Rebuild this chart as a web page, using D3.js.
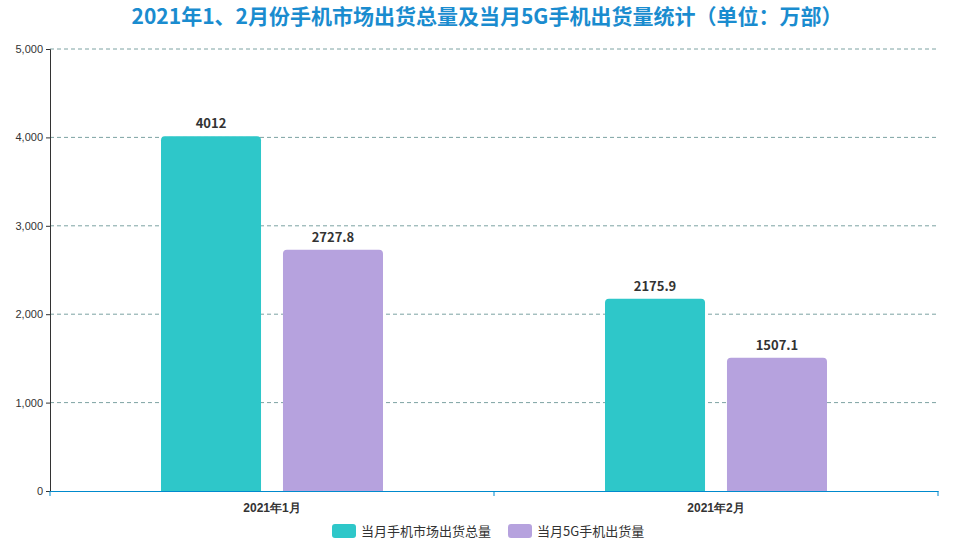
<!DOCTYPE html>
<html><head><meta charset="utf-8">
<script src="https://cdn.jsdelivr.net/npm/d3@7"></script>
<style>body{margin:0;background:#fff;font-family:"Noto Sans CJK SC","Noto Sans",sans-serif;}</style>
</head><body><div id="chart"></div>
<script>
// Data
const categories = ["2021年1月", "2021年2月"];
const seriesNames = ["当月手机市场出货总量", "当月5G手机出货量"];
const totalShipments = [4012, 2175.9];
const shipments5G = [2727.8, 1507.1];
const yTicks = [0, 1000, 2000, 3000, 4000, 5000];
const colors = ["#2ec7c9", "#b6a2de"];

const W = 974, H = 544;
const margin = { top: 49, right: 36, bottom: 53, left: 50 };
const width = W - margin.left - margin.right;
const height = H - margin.top - margin.bottom;

const svg = d3.select("#chart").append("svg")
    .attr("width", W).attr("height", H);

// Title
svg.append("text")
    .attr("x", W / 2).attr("y", 24)
    .attr("text-anchor", "middle")
    .style("font-size", "21px").style("font-weight", "bold")
    .attr("fill", "#1a8ccf")
    .text("2021年1、2月份手机市场出货总量及当月5G手机出货量统计（单位：万部）");

const g = svg.append("g").attr("transform", `translate(${margin.left},${margin.top})`);

const x0 = d3.scaleBand().domain(categories).range([0, width]);
const x1 = d3.scaleBand().domain(seriesNames).range([0, x0.bandwidth()]).paddingInner(0.18).paddingOuter(0.91);
const y = d3.scaleLinear().domain([0, 5000]).range([height, 0]);

// Grid lines
g.selectAll(".grid").data(yTicks.slice(1)).join("line")
    .attr("x1", 0).attr("x2", width)
    .attr("y1", d => y(d)).attr("y2", d => y(d))
    .attr("stroke", "#5a8a8a").attr("stroke-dasharray", "4,3").attr("stroke-width", 0.8);

// Y axis
const yAxis = g.append("g").call(d3.axisLeft(y).tickValues(yTicks).tickSize(4).tickFormat(d3.format(",")));
yAxis.select(".domain").attr("stroke", "#333");
yAxis.selectAll("line").attr("stroke", "#333");
yAxis.selectAll("text").style("font-size", "11px").attr("fill", "#333");

// Bars
const plotData = categories.flatMap((c, i) => [
    { cat: c, s: seriesNames[0], v: totalShipments[i] },
    { cat: c, s: seriesNames[1], v: shipments5G[i] }
]);
g.selectAll(".bar").data(plotData).join("path")
    .attr("fill", d => colors[seriesNames.indexOf(d.s)])
    .attr("d", d => {
        const bx = x0(d.cat) + x1(d.s), bw = x1.bandwidth(), by = y(d.v), bh = height - y(d.v), r = 4;
        return `M${bx},${by + bh}V${by + r}Q${bx},${by} ${bx + r},${by}H${bx + bw - r}Q${bx + bw},${by} ${bx + bw},${by + r}V${by + bh}Z`;
    });
g.selectAll(".lbl").data(plotData).join("text")
    .attr("x", d => x0(d.cat) + x1(d.s) + x1.bandwidth() / 2)
    .attr("y", d => y(d.v) - 8)
    .attr("text-anchor", "middle")
    .style("font-size", "13px").style("font-weight", "bold").attr("fill", "#333")
    .text(d => d.v);

// X axis
const xAxis = g.append("g").attr("transform", `translate(0,${height})`)
    .call(d3.axisBottom(x0).tickSize(0).tickPadding(12));
xAxis.select(".domain").attr("stroke", "#008acd");
xAxis.selectAll("text").style("font-size", "12px").style("font-weight", "bold").attr("fill", "#333");
g.selectAll(".xtick").data([0, width / 2, width]).join("line")
    .attr("x1", d => d).attr("x2", d => d)
    .attr("y1", height).attr("y2", height + 5).attr("stroke", "#008acd");

// Legend
const legend = svg.append("g").attr("transform", `translate(332, 524)`);
seriesNames.forEach((s, i) => {
    const row = legend.append("g").attr("transform", `translate(${i * 176},0)`);
    row.append("rect").attr("width", 24).attr("height", 14).attr("rx", 3).attr("fill", colors[i]);
    row.append("text").attr("x", 29).attr("y", 12).style("font-size", "13px").attr("fill", "#333").text(s);
});
</script></body></html>
